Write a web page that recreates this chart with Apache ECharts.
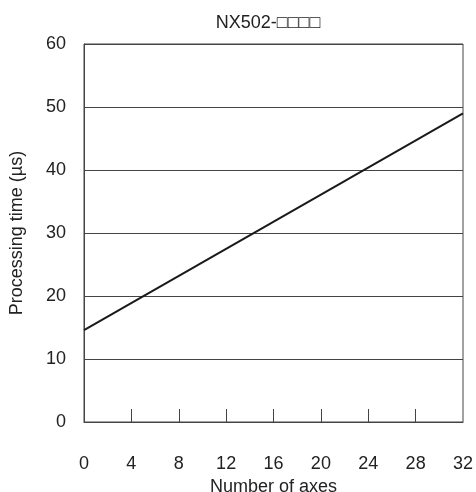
<!DOCTYPE html>
<html><head><meta charset="utf-8">
<script src="https://cdn.jsdelivr.net/npm/echarts@6/dist/echarts.min.js"></script>
<style>html,body{margin:0;padding:0;background:#fff;}#c{width:476px;height:492px;}</style>
</head><body><div id="c"></div>
<script>
var titleText = "NX502-\u25A1\u25A1\u25A1\u25A1";
var xName = "Number of axes";
var yName = "Processing time (\u00B5s)";
var axesCount = [0, 32];
var processingTime = [14.6, 49.0];
var xTicks = [4, 8, 12, 16, 20, 24, 28];

var data = axesCount.map(function(x, i){ return [x, processingTime[i]]; });
var chart = echarts.init(document.getElementById('c'));
var font = 'Liberation Sans, Arial, sans-serif';
chart.setOption({
  animation: false,
  title: { text: titleText, left: 263, textAlign: 'center', top: 9,
    textStyle: { fontSize: 18, fontWeight: 'normal', color: '#222', fontFamily: font } },
  grid: { left: 84, right: 13, top: 44, bottom: 70, containLabel: false, outerBoundsMode: 'none',
    show: true, borderColor: '#444', borderWidth: 1 },
  xAxis: {
    type: 'value', min: 0, max: 32, interval: 4,
    name: xName, nameLocation: 'middle', nameGap: 55,
    nameTextStyle: { fontSize: 18, color: '#222', fontFamily: font },
    axisLine: { show: true, lineStyle: { color: '#444', width: 1 } },
    axisTick: { show: true, inside: true, length: 13, customValues: xTicks, lineStyle: { color: '#444' } },
    axisLabel: { margin: 33, fontSize: 18, color: '#222', fontFamily: font },
    splitLine: { show: false }
  },
  yAxis: {
    type: 'value', min: 0, max: 60, interval: 10,
    name: yName, nameLocation: 'middle', nameGap: 58,
    nameTextStyle: { fontSize: 18, color: '#222', fontFamily: font },
    axisLine: { show: true, lineStyle: { color: '#444', width: 1 } },
    axisTick: { show: false },
    axisLabel: { margin: 18, fontSize: 18, color: '#222', fontFamily: font },
    splitLine: { show: true, lineStyle: { color: '#444', width: 1 } }
  },
  series: [{
    type: 'line', data: data, symbol: 'none',
    lineStyle: { color: '#1a1a1a', width: 2 }
  }]
});
</script></body></html>
